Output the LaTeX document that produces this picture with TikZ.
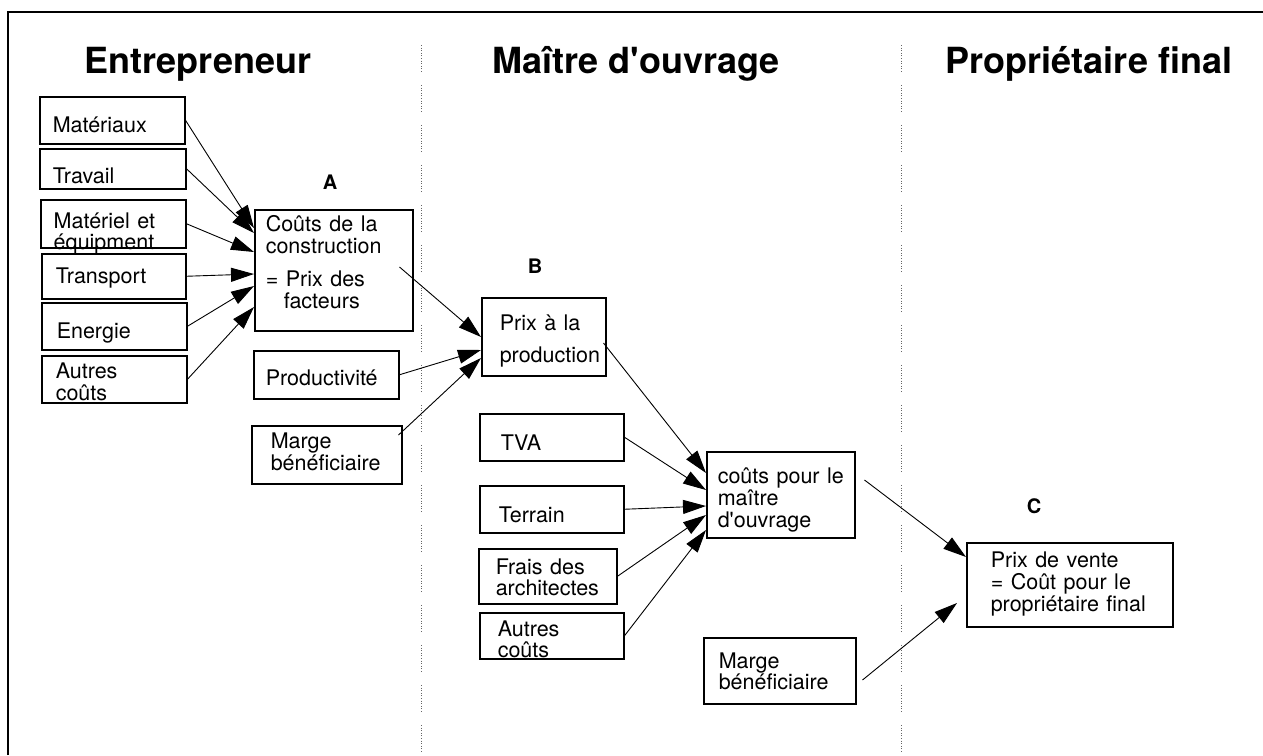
\documentclass[tikz,border=0pt]{standalone}
\usepackage{fontspec}
\setmainfont{TeX Gyre Heros}
\usepackage{tikz}
\usetikzlibrary{arrows.meta}

\begin{document}
\begin{tikzpicture}[x=1pt,y=-1pt]
%
\tikzset{
  costbox/.style={draw,line width=1.5pt,anchor=north west,align=left,inner xsep=0pt,inner ysep=0pt},
  heading/.style={font=\bfseries\fontsize{36}{36}\selectfont,anchor=base},
  letter/.style={font=\bfseries\fontsize{20}{20}\selectfont},
  arr/.style={-{Triangle[length=23pt,width=14pt]},line width=0.9pt},
  sepline/.style={draw=black!60,line width=0.6pt,dash pattern=on 1pt off 1.6pt}
}
\path[use as bounding box] (0,0) rectangle (1263,755);
%
% box: name, x1, y1, x2, y2, indent, line skip, drop, text
\newcommand{\costbox}[9]{
  \pgfmathsetmacro{\boxw}{#4-#2}
  \pgfmathsetmacro{\boxh}{#5-#3}
  \node[costbox,text width=\boxw pt,minimum height=\boxh pt] (#1) at (#2,#3)
    {\hspace*{#6pt}\fontsize{21.5}{#7}\selectfont\spaceskip=7.5pt plus 1pt minus 1pt
     \raisebox{-#8pt}[\height][\depth]{\begin{tabular}{@{}l@{}}#9\end{tabular}}};
}
%
\draw[line width=1.4pt] (8,755) -- (8,12) -- (1263,12);
\foreach \x in {421,901}
  \foreach \y in {45,85,...,725}
    \draw[sepline] (\x,\y) -- (\x,\y+27);
%
\node[heading] (titEnt) at (198,73) {Entrepreneur};
\node[heading] (titMO) at (636,73) {Maître d\textquotesingle ouvrage};
\node[heading] (titProp) at (1089,73) {Propriétaire final};
%
\node[letter] (labA) at (330,182) {A};
\node[letter] (labB) at (535,266) {B};
\node[letter] (labC) at (1034,506) {C};
%
\costbox{mat}{39}{96}{184}{143}{13}{21}{8}{Matériaux}
\costbox{trav}{39}{148}{185}{188}{13}{21}{10}{Travail}
\costbox{equip}{40}{199}{185}{247}{13}{17}{10}{Matériel et\\équipment}
\costbox{transp}{41}{253}{185}{298}{14}{21}{3}{Transport}
\costbox{energ}{41}{302}{186}{349}{15}{21}{8}{Energie}
\costbox{autresA}{41}{355}{186}{402}{14}{21}{6}{Autres\\coûts}
\costbox{coutsA}{254}{209}{412}{330}{11}{21}{-5}{Coûts de la\\construction\\[11pt]= Prix des\\\hspace*{18pt}facteurs}
\costbox{prod}{253}{350}{398}{398}{12}{21}{6}{Productivité}
\costbox{margeA}{251}{425}{401}{483}{19}{20}{0}{Marge\\bénéficiaire}
\costbox{prixB}{481}{297}{605}{375}{18}{32}{3}{Prix à la\\production}
\costbox{tva}{479}{413}{623}{460}{21}{21}{9}{TVA}
\costbox{terrain}{479}{485}{623}{532}{19}{21}{9}{Terrain}
\costbox{frais}{478}{548}{616}{603}{17}{18}{4}{Frais des\\architectes}
\costbox{autresB}{479}{612}{623}{658}{18}{18}{6}{Autres\\coûts}
\costbox{coutsMO}{706}{451}{854}{537}{11}{21}{6}{coûts pour le\\maître\\d\textquotesingle ouvrage}
\costbox{margeC}{703}{637}{855}{703}{15}{18}{3}{Marge\\bénéficiaire}
\costbox{prixC}{966}{542}{1172}{626}{24}{20}{0}{Prix de vente\\= Coût pour le\\propriétaire final}
%
\foreach \src/\dy in {mat/19,trav/24,equip/43,transp/65,energ/77,autresA/98}
  \draw[arr] (\src.east) -- ([yshift=-\dy pt]coutsA.north west);
%
\draw[arr] ([xshift=-14pt,yshift=-58pt]coutsA.north east) -- ([yshift=-40pt]prixB.north west);
\draw[arr] (prod.east) -- ([yshift=-53pt]prixB.north west);
\draw[arr] ([xshift=-4pt,yshift=-10pt]margeA.north east) -- ([yshift=-61pt]prixB.north west);
%
\draw[arr] ([xshift=-3pt,yshift=-46pt]prixB.north east) -- ([yshift=-22pt]coutsMO.north west);
\foreach \src/\dy in {tva/39,terrain/55,frais/64,autresB/79}
  \draw[arr] (\src.east) -- ([yshift=-\dy pt]coutsMO.north west);
%
\draw[arr] ([xshift=9pt,yshift=-29pt]coutsMO.north east) -- ([yshift=-15pt]prixC.north west);
\draw[arr] ([xshift=6pt,yshift=-43pt]margeC.north east) -- ([xshift=-9pt,yshift=-61pt]prixC.north west);
%
\end{tikzpicture}
\end{document}
